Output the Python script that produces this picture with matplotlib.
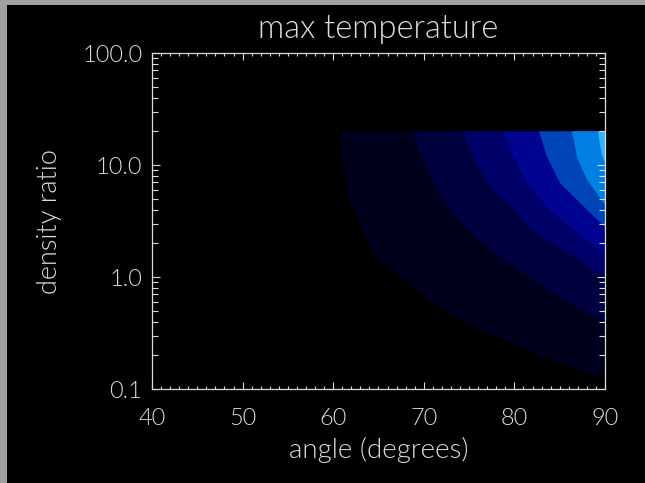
import matplotlib
matplotlib.use("Agg")
import os
import matplotlib.pyplot as plt
from matplotlib import font_manager as fm
from matplotlib.patches import Rectangle
from matplotlib.textpath import TextPath
from matplotlib.ticker import MultipleLocator, LogLocator, NullFormatter

# ---------------- data ----------------
angle_ticks = [40, 50, 60, 70, 80, 90]
ratio_ticks = [0.1, 1.0, 10.0, 100.0]
ratio_labels = ["0.1", "1.0", "10.0", "100.0"]
angle_max = 90.0
ratio_top = 20.0  # upper edge of the computed grid

# contour boundaries (angle, density ratio), from the top edge to the right edge
b1_angle = [60.75, 60.97, 61.30, 61.85, 62.41, 63.29, 64.61, 67.04, 69.58, 70.68, 75.10, 80.62, 86.14, 88.68, 90.0]
b1_ratio = [20.0, 11.08, 7.35, 4.87, 3.80, 2.52, 1.60, 1.04, 0.735, 0.598, 0.373, 0.237, 0.157, 0.133, 0.133]
b2_angle = [68.70, 69.80, 71.46, 73.22, 75.10, 77.31, 80.62, 85.03, 90.0]
b2_ratio = [20.0, 11.55, 5.74, 3.58, 2.52, 1.74, 1.13, 0.663, 0.396]
b3_angle = [74.22, 75.10, 75.87, 77.64, 79.74, 81.72, 83.93, 86.14, 90.0]
b3_ratio = [20.0, 13.6, 10.2, 5.98, 4.13, 2.74, 2.05, 1.60, 1.0]
b4_angle = [78.74, 79.74, 81.39, 83.60, 86.14, 90.0]
b4_ratio = [20.0, 12.8, 6.91, 4.22, 2.79, 1.60]
b5_angle = [82.72, 83.60, 85.03, 87.24, 90.0]
b5_ratio = [20.0, 11.79, 6.91, 4.58, 2.79]
b6_angle = [86.36, 86.91, 88.02, 89.23, 90.0]
b6_ratio = [20.0, 11.79, 7.35, 5.40, 4.39]
b7_angle = [89.23, 89.45, 89.67, 90.0]
b7_ratio = [20.0, 15.09, 12.28, 10.64]

boundaries = [
    (b1_angle, b1_ratio),
    (b2_angle, b2_ratio),
    (b3_angle, b3_ratio),
    (b4_angle, b4_ratio),
    (b5_angle, b5_ratio),
    (b6_angle, b6_ratio),
    (b7_angle, b7_ratio),
]
level_colors = ["#00001c", "#00003e", "#00006a", "#000490", "#0044b8", "#0080e4", "#30b4ff"]


# ---------------- pick a thin font (the reference uses thin vector glyphs) ----------------
def _w(x):
    if isinstance(x, str):
        return fm.weight_dict.get(x, 400)
    return int(x)


def eff_weight(f):
    key = (f.name + " " + os.path.basename(f.fname)).lower()
    if "hairline" in key or "thin" in key:
        return 100
    if "extralight" in key or "ultralight" in key or "extra light" in key:
        return 200
    if "light" in key:
        return 300
    return _w(f.weight)


def pick_font():
    bases = ["Lato", "Roboto", "Open Sans", "Noto Sans", "DejaVu Sans", "Inter"]
    for want in (300, 200):
        for base in bases:
            for f in fm.fontManager.ttflist:
                if f.style != "normal" or not f.name.startswith(base):
                    continue
                if "mono" in f.name.lower() or "cjk" in f.name.lower() or "condensed" in f.name.lower():
                    continue
                if eff_weight(f) == want:
                    return f.fname
    return None


FPATH = pick_font()


def fprop(size):
    if FPATH:
        return fm.FontProperties(fname=FPATH, size=size)
    return fm.FontProperties(family="DejaVu Sans", size=size)


PX = 100 / 72.0  # pixels per point


def glyph_h(s):
    # glyph ink height (px) per 1 pt of font size
    return TextPath((0, 0), s, prop=fprop(100)).get_extents().height / 100 * PX


def text_w(s):
    return TextPath((0, 0), s, prop=fprop(100)).get_extents().width / 100 * PX


def size_for(s, width_px, hglyph, height_px):
    by_w = width_px / text_w(s)
    by_h = height_px / glyph_h(hglyph)
    return (by_w * by_h) ** 0.5


FG = "#dcdcdc"

fig = plt.figure(figsize=(6.45, 4.83), dpi=100, facecolor="#a0a0a0")
W, H = 645.0, 483.0
fig.patches.append(Rectangle((7 / W, 0), 1, 1 - 5 / H, transform=fig.transFigure,
                             facecolor="black", edgecolor="none", zorder=-10))

ax = fig.add_axes([152 / W, 1 - 389 / H, (605 - 152) / W, (389 - 53) / H])
ax.set_zorder(1)
ax.set_facecolor("black")
ax.set_yscale("log")
ax.set_xlim(angle_ticks[0], angle_ticks[-1])
ax.set_ylim(ratio_ticks[0], ratio_ticks[-1])

for (a, r), c in zip(boundaries, level_colors):
    xs = list(a) + [angle_max]
    ys = list(r) + [ratio_top]
    ax.fill(xs, ys, color=c, lw=0, zorder=1)

for sp in ax.spines.values():
    sp.set_color(FG)
    sp.set_linewidth(0.9)

ax.set_xticks(angle_ticks)
ax.set_xticklabels([str(t) for t in angle_ticks])
ax.xaxis.set_minor_locator(MultipleLocator(1))
ax.set_yticks(ratio_ticks)
ax.set_yticklabels(ratio_labels)
ax.yaxis.set_minor_locator(LogLocator(base=10, subs=[2, 3, 4, 5, 6, 7, 8, 9]))
ax.yaxis.set_minor_formatter(NullFormatter())

title_size = size_for("max temperature", 256, "x", 15)
xlab_size = size_for("angle (degrees)", 187, "x", 13)
ylab_size = size_for("density ratio", 147, "x", 13)
tick_size = size_for("100.0", 64, "0", 15)

# place x tick labels so their digits are centred ~29 px below the axis
digit_h = glyph_h("0") * tick_size
x_pad_pt = (29 - digit_h / 2) / PX - 1.0

ax.tick_params(which="both", direction="in", top=True, right=True, color=FG, width=0.8, zorder=3)
ax.tick_params(axis="x", which="major", length=5, pad=x_pad_pt)
ax.tick_params(axis="x", which="minor", length=2.5)
ax.tick_params(axis="y", which="major", length=5.5, pad=7)
ax.tick_params(axis="y", which="minor", length=4)

xlab = ax.set_xlabel("angle (degrees)", color=FG, fontproperties=fprop(xlab_size))
ax.xaxis.set_label_coords(0.5, (389 - 450) / 336)
xlab.set_va("center")
ylab = ax.set_ylabel("density ratio", color=FG, fontproperties=fprop(ylab_size))
ax.yaxis.set_label_coords((49 - 152) / 453, 0.5)
ylab.set_va("center")
ax.set_title("max temperature", color=FG, y=(389 - 38) / 336,
             va="baseline", pad=0, fontproperties=fprop(title_size))

for lab in ax.get_xticklabels() + ax.get_yticklabels():
    lab.set_color(FG)
    lab.set_fontproperties(fprop(tick_size))

fig.savefig("out.png", dpi=100, facecolor=fig.get_facecolor())
